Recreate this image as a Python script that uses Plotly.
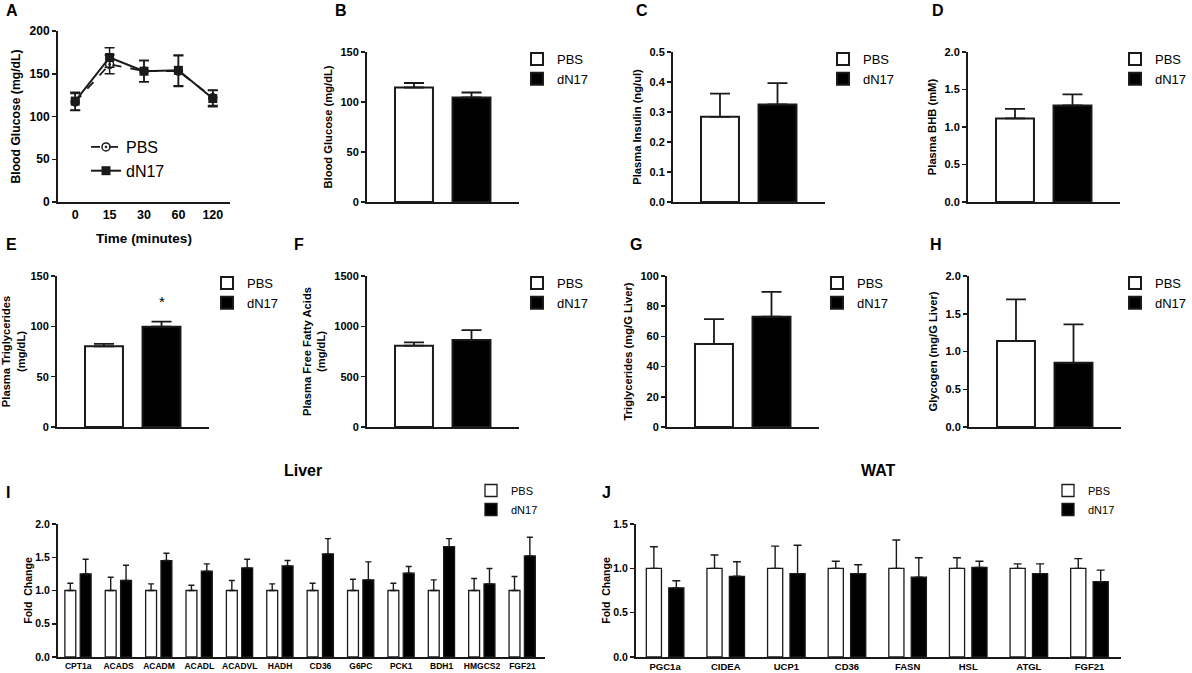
import plotly.graph_objects as go

W, H = 1192, 673
FONT = "Liberation Sans"
INK = "#1a1a1a"

# ---------------- data ----------------
groups = ["PBS", "dN17"]

# A: glucose tolerance time course
time_labels = ["0", "15", "30", "60", "120"]
a_pbs = [117, 161, 153, 153, 122]
a_pbs_err = [10, 11, 12.5, 18, 9]
a_dn17 = [118, 169, 153, 154, 121]
a_dn17_err = [10.5, 11.5, 12.5, 18, 9.5]

# B-H: two-group bar panels (mean, SEM)
b_vals = [114.5, 104.5]; b_err = [4.5, 5.0]
c_vals = [0.284, 0.325]; c_err = [0.077, 0.071]
d_vals = [1.115, 1.288]; d_err = [0.128, 0.146]
e_vals = [80.1, 99.7]; e_err = [2.4, 4.9]
e_sig = ["", "*"]
f_vals = [808, 864]; f_err = [33, 99]
g_vals = [55, 73]; g_err = [16.5, 16.5]
h_vals = [1.14, 0.85]; h_err = [0.55, 0.51]

# I: liver gene expression
liver_genes = ["CPT1a", "ACADS", "ACADM", "ACADL", "ACADVL", "HADH",
               "CD36", "G6PC", "PCK1", "BDH1", "HMGCS2", "FGF21"]
liver_pbs = [1.0] * 12
liver_pbs_err = [0.11, 0.20, 0.10, 0.08, 0.15, 0.10, 0.11, 0.17, 0.11, 0.16, 0.18, 0.21]
liver_dn17 = [1.25, 1.15, 1.45, 1.29, 1.34, 1.37, 1.55, 1.16, 1.26, 1.66, 1.10, 1.52]
liver_dn17_err = [0.22, 0.23, 0.11, 0.11, 0.13, 0.08, 0.23, 0.27, 0.10, 0.12, 0.23, 0.28]

# J: WAT gene expression
wat_genes = ["PGC1a", "CIDEA", "UCP1", "CD36", "FASN", "HSL", "ATGL", "FGF21"]
wat_pbs = [1.0] * 8
wat_pbs_err = [0.244, 0.15, 0.25, 0.08, 0.32, 0.12, 0.05, 0.11]
wat_dn17 = [0.78, 0.91, 0.94, 0.94, 0.90, 1.01, 0.94, 0.85]
wat_dn17_err = [0.08, 0.165, 0.32, 0.10, 0.22, 0.07, 0.11, 0.13]


# ---------------- helpers ----------------
def xd(l, r):
    return [l / W, r / W]


def yd(t, b):
    return [1 - b / H, 1 - t / H]


def px(x):
    return x / W


def py(y):
    return 1 - y / H


def font(size, bold=False):
    d = dict(family=FONT, size=size, color="black")
    if bold:
        d["weight"] = "bold"
    return d


def yaxis(k, dom, rng, dtick, fmt, title, tfs=11, titlefs=11.2, standoff=6):
    return dict(domain=dom, range=rng, dtick=dtick, tick0=0, tickformat=fmt,
                showline=True, linecolor=INK, linewidth=2, ticks="outside",
                ticklen=4, tickwidth=1.5, tickcolor=INK,
                tickfont=font(tfs, True), showgrid=False, zeroline=False,
                anchor="x" if k == 1 else f"x{k}",
                title=dict(text=title, font=font(titlefs, True), standoff=standoff))


def xaxis(k, dom, rng, cats, showlabels=False, tfs=9):
    return dict(domain=dom, range=rng, type="category",
                categoryorder="array", categoryarray=cats,
                showline=True, linecolor=INK, linewidth=2, ticks="",
                showticklabels=showlabels, tickfont=font(tfs, True),
                showgrid=False, zeroline=False,
                anchor="y" if k == 1 else f"y{k}")


def leg_name(k):
    return "legend" if k == 1 else f"legend{k}"


def axn(k, a):
    return a if k == 1 else f"{a}{k}"


fig = go.Figure()
layout = dict(width=W, height=H, margin=dict(l=0, r=0, t=0, b=0, autoexpand=False),
              paper_bgcolor="white", plot_bgcolor="white",
              barmode="overlay", showlegend=True, hovermode=False)
annotations = []

# ---------------- panel A ----------------
fig.add_trace(go.Scatter(
    x=time_labels, y=a_pbs, name="PBS", mode="lines+markers",
    line=dict(color=INK, width=1.8, dash="dash"),
    marker=dict(symbol="circle-open-dot", size=8, color=INK, line=dict(width=1.5, color=INK)),
    error_y=dict(type="data", array=a_pbs_err, width=5, thickness=1.5, color=INK),
    xaxis="x", yaxis="y", legend="legend"))
fig.add_trace(go.Scatter(
    x=time_labels, y=a_dn17, name="dN17", mode="lines+markers",
    line=dict(color=INK, width=2),
    marker=dict(symbol="square", size=9, color=INK),
    error_y=dict(type="data", array=a_dn17_err, width=5, thickness=1.5, color=INK),
    xaxis="x", yaxis="y", legend="legend"))
layout["xaxis"] = xaxis(1, xd(58, 230), [-0.5, 4.5], time_labels, True, 12.5)
layout["xaxis"]["title"] = dict(text="Time (minutes)", font=font(13.5, True), standoff=13)
layout["yaxis"] = yaxis(1, yd(31, 202), [0, 200], 50, "d", "Blood Glucose (mg/dL)", 12, 12.2)
layout["legend"] = dict(x=px(86), y=py(130), xanchor="left", yanchor="top",
                        font=font(16), bgcolor="rgba(0,0,0,0)", itemwidth=30,
                        tracegroupgap=0)

# ---------------- panels B-H ----------------
bar_panels = [
    # k, x0, top, bottom, vals, errs, ymax, dtick, fmt, title
    (2, 367, 52, 202, b_vals, b_err, 150, 50, "d", "Blood Glucose (mg/dL)"),
    (3, 673, 52, 202, c_vals, c_err, 0.5, 0.1, ".1f", "Plasma Insulin (ng/ul)"),
    (4, 968, 52, 202, d_vals, d_err, 2.0, 0.5, ".1f", "Plasma BHB (mM)"),
    (5, 57, 276, 427, e_vals, e_err, 150, 50, "d", "Plasma Triglycerides<br>(mg/dL)"),
    (6, 367, 276, 427, f_vals, f_err, 1500, 500, "d", "Plasma Free Fatty Acids<br>(mg/dL)"),
    (7, 667, 276, 427, g_vals, g_err, 100, 20, "d", "Triglycerides (mg/G Liver)"),
    (8, 969, 276, 427, h_vals, h_err, 2.0, 0.5, ".1f", "Glycogen (mg/G Liver)"),
]
fills = ["white", "black"]
for k, x0, top, bot, vals, errs, ymax, dt, fmt, title in bar_panels:
    for i, g in enumerate(groups):
        fig.add_trace(go.Bar(
            x=[g], y=[vals[i]], name=g, width=0.66,
            marker=dict(color=fills[i], line=dict(color=INK, width=2)),
            error_y=dict(type="data", symmetric=False, array=[errs[i]],
                         arrayminus=[0], width=10, thickness=1.8, color=INK),
            xaxis=axn(k, "x"), yaxis=axn(k, "y"), legend=leg_name(k)))
    layout[axn(k, "xaxis")] = xaxis(k, xd(x0, x0 + 152), [-0.817, 1.826], groups)
    layout[axn(k, "yaxis")] = yaxis(k, yd(top, bot), [0, ymax], dt, fmt, title)
    if x0 + 150 + 80 > W:
        leg_x, leg_anchor = 1.0, "right"
    else:
        leg_x, leg_anchor = px(x0 + 150), "left"
    layout[leg_name(k)] = dict(x=leg_x, y=py(top - 8), xanchor=leg_anchor,
                               yanchor="top", font=font(13),
                               bgcolor="rgba(0,0,0,0)", itemwidth=30,
                               tracegroupgap=0)

# significance star in E
for i, g in enumerate(groups):
    if e_sig[i]:
        annotations.append(dict(x=g, y=e_vals[i] + e_err[i], xref="x5", yref="y5",
                                text=e_sig[i], showarrow=False, xanchor="center",
                                yanchor="bottom", yshift=10, font=font(15)))

# ---------------- panels I and J ----------------
gene_panels = [
    (9, 58, 545, liver_genes, liver_pbs, liver_pbs_err, liver_dn17, liver_dn17_err,
     [-0.5, 11.56], 0.27, -0.33, 0.05, 3, 2.0, 471, 8.5),
    (10, 636, 1121, wat_genes, wat_pbs, wat_pbs_err, wat_dn17, wat_dn17_err,
     [-0.48, 7.52], 0.25, -0.31, 0.06, 4, 1.5, 1048, 9.5),
]
for (k, xl, xr, genes, pv, pe, dv, de, xr_rng, bw, off1, off2, cap, ymax,
     legx, xtf) in gene_panels:
    fig.add_trace(go.Bar(
        x=genes, y=pv, name="PBS", width=bw, offset=off1,
        marker=dict(color="white", line=dict(color=INK, width=1.3)),
        error_y=dict(type="data", symmetric=False, array=pe,
                     arrayminus=[0] * len(genes), width=cap, thickness=1.4, color=INK),
        xaxis=axn(k, "x"), yaxis=axn(k, "y"), legend=leg_name(k)))
    fig.add_trace(go.Bar(
        x=genes, y=dv, name="dN17", width=bw, offset=off2,
        marker=dict(color="black", line=dict(color=INK, width=1.3)),
        error_y=dict(type="data", symmetric=False, array=de,
                     arrayminus=[0] * len(genes), width=cap, thickness=1.4, color=INK),
        xaxis=axn(k, "x"), yaxis=axn(k, "y"), legend=leg_name(k)))
    layout[axn(k, "xaxis")] = xaxis(k, xd(xl, xr), xr_rng, genes, True, xtf)
    layout[axn(k, "yaxis")] = yaxis(k, yd(524, 657), [0, ymax], 0.5, ".1f", "Fold  Change",
                                    10.5, 10.5, 1)
    layout[leg_name(k)] = dict(x=px(legx), y=py(476), xanchor="left", yanchor="top",
                               font=font(11), bgcolor="rgba(0,0,0,0)", itemwidth=30,
                               tracegroupgap=0)

# ---------------- titles and panel letters ----------------
annotations.append(dict(x=px(303), y=py(471), xref="paper", yref="paper", text="Liver",
                        showarrow=False, xanchor="center", yanchor="middle",
                        font=font(16, True)))
annotations.append(dict(x=px(878), y=py(470), xref="paper", yref="paper", text="WAT",
                        showarrow=False, xanchor="center", yanchor="middle",
                        font=font(16, True)))
letters = [("A", 4, 0), ("B", 333, 0), ("C", 634, 0), ("D", 930, 0),
           ("E", 4, 234), ("F", 292, 234), ("G", 628, 234), ("H", 928, 234),
           ("I", 4, 482), ("J", 600, 482)]
for t, lx, ly in letters:
    annotations.append(dict(x=px(lx), y=py(ly), xref="paper", yref="paper", text=t,
                            showarrow=False, xanchor="left", yanchor="top",
                            font=font(16, True)))

layout["annotations"] = annotations
fig.update_layout(**layout)
# remove the browser's default 8px body margin so the figure fills the window exactly
fig.write_html("out.html", config={"displayModeBar": False, "staticPlot": True},
               post_script="document.body.style.margin='0';document.body.style.overflow='hidden';")
